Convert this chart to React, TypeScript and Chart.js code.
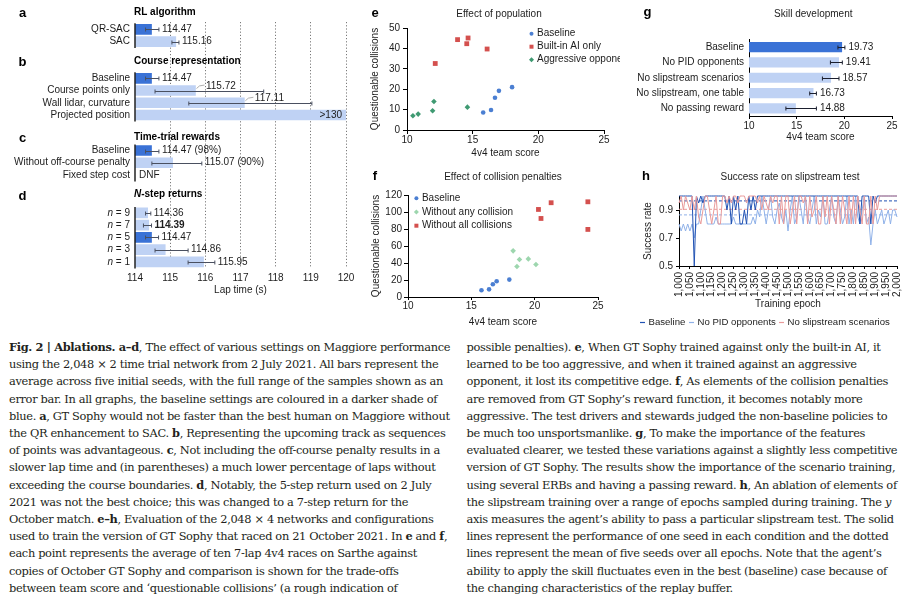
import React, { useEffect, useRef } from 'react';
import { Chart, registerables } from 'chart.js';

Chart.register(...registerables);

const FONT = '"Liberation Sans", Arial, Helvetica, sans-serif';
const INK = '#1c1c1c';
const DARK_BLUE = '#3a72d6';
const LIGHT_BLUE = '#bfd2f4';
const ERR = '#4a5060';
const PT_BLUE = '#4b7fd2';
const PT_RED = '#d4504e';
const PT_GREEN = '#3f9a72';
const PT_LGREEN = '#9dd6ae';
const H_DARK = '#2152b3';
const H_LIGHT = '#8fb1e8';
const H_PINK = '#e99a9a';

// ---------- a–d : lap time ablations ----------
const adLabels = ['QR-SAC', 'SAC', 'Baseline', 'Course points only', 'Wall lidar, curvature', 'Projected position', 'Baseline', 'Without off-course penalty', 'Fixed step cost', 'n = 9', 'n = 7', 'n = 5', 'n = 3', 'n = 1'];
const adRows = [0, 1, 4, 5, 6, 7, 9.9, 10.9, 11.9, 15, 16, 17, 18, 19];
const adTimes: (number | null)[] = [114.47, 115.16, 114.47, 115.72, 117.11, 130, 114.47, 115.07, null, 114.36, 114.39, 114.47, 114.86, 115.95];
const adErrLow: (number | null)[] = [114.3, 115.05, 114.3, 114.57, 115.53, null, 114.3, 114.48, null, 114.3, 114.24, 114.3, 114.57, 115.51];
const adErrHigh: (number | null)[] = [114.68, 115.25, 114.68, 117.66, 119.03, null, 114.68, 115.9, null, 114.45, 114.47, 114.67, 115.51, 116.27];
const adValueLabels = ['114.47', '115.16', '114.47', '115.72', '117.11', '>130', '114.47 (98%)', '115.07 (90%)', 'DNF', '114.36', '114.39', '114.47', '114.86', '115.95'];
const adIsBaseline = [true, false, true, false, false, false, true, false, false, false, false, true, false, false];
const adLabelAbove = [false, false, false, true, true, false, false, false, false, false, false, false, false, false];
const adBoldValue = [false, false, false, false, false, false, false, false, false, false, true, false, false, false];
const adGroupTitles = ['RL algorithm', 'Course representation', 'Time-trial rewards', '-step returns'];
const adGroupTitleRows = [-1.4, 2.6, 8.8, 13.5];
const adGroupLetters = ['a', 'b', 'c', 'd'];
const adGroupSpans = [[0, 1], [2, 5], [6, 8], [9, 13]];
const adTicks = [114, 115, 116, 117, 118, 119, 120];

// ---------- e : effect of population ----------
const eBaselineX = [15.8, 16.4, 16.7, 17.0, 18.0];
const eBaselineY = [8.6, 9.8, 15.8, 19.2, 21.0];
const eBuiltInX = [12.15, 13.85, 14.55, 14.65, 16.1];
const eBuiltInY = [32.6, 44.3, 42.3, 45.1, 39.7];
const eAggrX = [10.45, 10.85, 11.95, 12.05, 14.6];
const eAggrY = [7.0, 7.8, 9.4, 14.0, 11.2];

// ---------- f : effect of collision penalties ----------
const fBaselineX = [15.8, 16.4, 16.7, 17.0, 18.0];
const fBaselineY = [8, 9, 15, 18.5, 20.5];
const fNoAnyX = [18.3, 18.8, 18.6, 19.5, 20.1];
const fNoAnyY = [54.3, 44.1, 35.8, 44.8, 38.2];
const fNoAllX = [20.3, 20.5, 21.3, 24.2, 24.2];
const fNoAllY = [103, 92.4, 110.9, 112, 79.5];

// ---------- g : skill development ----------
const gLabels = ['Baseline', 'No PID opponents', 'No slipstream scenarios', 'No slipstream, one table', 'No passing reward'];
const gScores = [19.73, 19.41, 18.57, 16.73, 14.88];
const gErrLow = [19.33, 18.54, 17.7, 16.37, 13.87];
const gErrHigh = [20.06, 19.79, 19.44, 17.07, 17.07];
const gIsBaseline = [true, false, false, false, false];

// ---------- h : success rate on slipstream test ----------
const hEpochs = [1000, 1010, 1020, 1030, 1040, 1050, 1060, 1070, 1080, 1090,
  1100, 1110, 1120, 1130, 1140, 1150, 1160, 1170, 1180, 1190,
  1200, 1210, 1220, 1230, 1240, 1250, 1260, 1270, 1280, 1290,
  1300, 1310, 1320, 1330, 1340, 1350, 1360, 1370, 1380, 1390,
  1400, 1410, 1420, 1430, 1440, 1450, 1460, 1470, 1480, 1490,
  1500, 1510, 1520, 1530, 1540, 1550, 1560, 1570, 1580, 1590,
  1600, 1610, 1620, 1630, 1640, 1650, 1660, 1670, 1680, 1690,
  1700, 1710, 1720, 1730, 1740, 1750, 1760, 1770, 1780, 1790,
  1800, 1810, 1820, 1830, 1840, 1850, 1860, 1870, 1880, 1890,
  1900, 1910, 1920, 1930, 1940, 1950, 1960, 1970, 1980, 1990, 2000];
const hBaseline = [1, 1, 1, 1, 1, 1, 1, 0.5, 1, 0.95,
  1, 0.95, 1, 1, 1, 1, 1, 1, 1, 1,
  1, 1, 0.9, 1, 0.8, 1, 0.9, 1, 0.8, 0.8,
  0.9, 0.8, 1, 0.9, 1, 0.9, 1, 1, 1, 1,
  1, 1, 1, 1, 1, 1, 1, 1, 1, 1,
  1, 1, 1, 1, 1, 1, 1, 1, 1, 1,
  1, 1, 1, 1, 1, 1, 1, 1, 1, 1,
  1, 1, 1, 1, 1, 1, 1, 1, 1, 1,
  1, 1, 1, 0.8, 1, 1, 1, 1, 0.8, 1,
  0.95, 1, 1, 1, 1, 1, 1, 1, 1, 1, 1];
const hNoPid = [0.8, 0.75, 0.8, 0.75, 0.8, 0.75, 0.8, 0.7, 0.8, 0.8,
  0.9, 1, 0.9, 0.8, 0.8, 0.8, 0.8, 0.85, 0.8, 0.8,
  0.8, 0.8, 0.8, 0.8, 0.8, 0.85, 0.8, 0.8, 0.8, 0.8,
  0.8, 0.8, 0.8, 0.8, 0.85, 0.8, 0.9, 0.85, 1, 0.9,
  0.8, 0.9, 1, 0.85, 0.8, 0.9, 0.95, 0.85, 0.8, 0.9,
  0.75, 0.9, 1, 0.8, 0.85, 1, 0.9, 0.8, 1, 0.85,
  0.8, 0.9, 1, 0.8, 0.9, 0.85, 1, 0.8, 0.8, 0.9,
  1, 0.85, 0.8, 1, 0.9, 0.8, 0.85, 1, 0.8, 0.9,
  0.8, 1, 0.85, 0.8, 0.9, 1, 0.8, 0.85, 0.65, 0.8,
  0.9, 0.8, 0.85, 0.9, 0.8, 0.85, 0.9, 0.8, 0.9, 0.9, 0.85];
const hNoSlip = [0.95, 1, 0.9, 1, 0.95, 0.9, 1, 0.9, 1, 0.85,
  0.8, 0.9, 1, 1, 0.9, 0.8, 0.9, 1, 0.8, 0.8,
  1, 1, 0.95, 1, 0.95, 1, 1, 0.95, 1, 1,
  1, 0.95, 1, 1, 1, 1, 0.95, 1, 0.9, 1,
  0.95, 0.9, 1, 0.95, 1, 1, 0.8, 1, 0.8, 1,
  1, 0.8, 0.9, 1, 0.8, 1, 1, 0.95, 1, 0.8,
  1, 0.85, 0.9, 1, 0.8, 0.8, 1, 0.85, 1, 0.8,
  1, 0.9, 0.8, 1, 0.8, 1, 0.9, 0.8, 1, 0.8,
  1, 0.8, 1, 0.9, 0.8, 1, 0.8, 0.8, 1, 0.8,
  1, 0.9, 1, 1, 1, 1, 1, 1, 1, 1, 1];
const hSeriesNames = ['Baseline', 'No PID opponents', 'No slipstream scenarios'];
const hMeans = [0.965, 0.865, 0.905];

// ---------- helpers ----------
function font(size: number, weight = 'normal', style = 'normal') {
  return `${style} ${weight} ${size}px ${FONT}`;
}
function drawText(ctx: CanvasRenderingContext2D, s: string, x: number, y: number, o: { size?: number; weight?: string; style?: string; align?: CanvasTextAlign; baseline?: CanvasTextBaseline; color?: string } = {}) {
  ctx.font = font(o.size ?? 10, o.weight ?? 'normal', o.style ?? 'normal');
  ctx.textAlign = o.align ?? 'left';
  ctx.textBaseline = o.baseline ?? 'middle';
  ctx.fillStyle = o.color ?? INK;
  ctx.fillText(s, x, y);
}

function titlePlugin(title: string, tx: number, ty: number, letter: string, lx: number, ly: number) {
  return {
    id: 'panelTitle',
    afterDraw(chart: any) {
      const ctx = chart.ctx as CanvasRenderingContext2D;
      ctx.save();
      drawText(ctx, title, tx, ty, { align: 'center' });
      drawText(ctx, letter, lx, ly, { size: 13, weight: 'bold', align: 'center', baseline: 'alphabetic', color: '#000' });
      ctx.restore();
    },
  };
}

function scatterLegend(dx: number, dy: number, gap: number) {
  return {
    id: 'scatterLegend',
    afterDraw(chart: any) {
      const ctx = chart.ctx as CanvasRenderingContext2D;
      const ca = chart.chartArea;
      ctx.save();
      chart.data.datasets.forEach((ds: any, k: number) => {
        const cx = ca.left + dx;
        const cy = ca.top + dy + k * gap;
        ctx.fillStyle = ds.backgroundColor;
        ctx.beginPath();
        if (ds.pointStyle === 'rect') ctx.rect(cx - 2, cy - 2, 4, 4);
        else if (ds.pointStyle === 'rectRot') { ctx.moveTo(cx, cy - 2.5); ctx.lineTo(cx + 2.5, cy); ctx.lineTo(cx, cy + 2.5); ctx.lineTo(cx - 2.5, cy); ctx.closePath(); }
        else ctx.arc(cx, cy, 2, 0, Math.PI * 2);
        ctx.fill();
        drawText(ctx, ds.label, cx + 5.5, cy);
      });
      ctx.restore();
    },
  };
}

function ChartCanvas({ left, top, width, height, build }: { left: number; top: number; width: number; height: number; build: () => any }) {
  const ref = useRef<HTMLCanvasElement | null>(null);
  useEffect(() => {
    if (!ref.current) return;
    const chart = new Chart(ref.current, build());
    return () => chart.destroy();
  }, []);
  return <canvas ref={ref} width={width} height={height} style={{ position: 'absolute', left, top, width, height }} />;
}

const tickFont = { family: FONT, size: 10 };
const axisTitleFont = { family: FONT, size: 10 };

// ---------- a–d ----------
const adPlugin = {
  id: 'adDecor',
  afterDatasetsDraw(chart: any) {
    const ctx = chart.ctx as CanvasRenderingContext2D;
    const xs = chart.scales.x, ys = chart.scales.y;
    ctx.save();
    ctx.strokeStyle = ERR;
    ctx.lineWidth = 1;
    adRows.forEach((r, i) => {
      const lo = adErrLow[i], hi = adErrHigh[i];
      if (lo == null || hi == null) return;
      const yy = Math.round(ys.getPixelForValue(r)) + 0.5;
      const x1 = xs.getPixelForValue(lo), x2 = xs.getPixelForValue(hi);
      ctx.beginPath();
      ctx.moveTo(x1, yy); ctx.lineTo(x2, yy);
      ctx.moveTo(x1, yy - 2); ctx.lineTo(x1, yy + 2);
      ctx.moveTo(x2, yy - 2); ctx.lineTo(x2, yy + 2);
      ctx.stroke();
    });
    ctx.restore();
  },
  afterDraw(chart: any) {
    const ctx = chart.ctx as CanvasRenderingContext2D;
    const ca = chart.chartArea;
    const xs = chart.scales.x, ys = chart.scales.y;
    ctx.save();
    ctx.strokeStyle = '#222';
    ctx.lineWidth = 1.5;
    adGroupSpans.forEach(([a, b]) => {
      ctx.beginPath();
      ctx.moveTo(ca.left, ys.getPixelForValue(adRows[a]) - 6);
      ctx.lineTo(ca.left, ys.getPixelForValue(adRows[b]) + 6.5);
      ctx.stroke();
    });
    adLabels.forEach((lab, i) => {
      const yy = ys.getPixelForValue(adRows[i]);
      const xr = ca.left - 5;
      if (lab.startsWith('n ')) {
        ctx.font = font(10);
        const rest = lab.slice(1);
        const w = ctx.measureText(rest).width;
        drawText(ctx, rest, xr, yy, { align: 'right' });
        drawText(ctx, 'n', xr - w, yy, { align: 'right', style: 'italic' });
      } else {
        drawText(ctx, lab, xr, yy, { align: 'right' });
      }
    });
    adGroupTitles.forEach((t, g) => {
      const yy = ys.getPixelForValue(adGroupTitleRows[g]);
      let x0 = ca.left - 1;
      if (g === 3) {
        drawText(ctx, 'N', x0, yy, { weight: 'bold', style: 'italic', color: '#000' });
        ctx.font = font(10, 'bold', 'italic');
        x0 += ctx.measureText('N').width;
      }
      drawText(ctx, t, x0, yy, { weight: 'bold', color: '#000' });
      drawText(ctx, adGroupLetters[g], 22.5, yy + 5, { size: 13, weight: 'bold', align: 'center', baseline: 'alphabetic', color: '#000' });
    });
    adRows.forEach((r, i) => {
      const yy = ys.getPixelForValue(r);
      const t = adTimes[i];
      const lab = adValueLabels[i];
      const weight = adBoldValue[i] ? 'bold' : 'normal';
      if (t == null) {
        drawText(ctx, lab, ca.left + 4, yy);
      } else if (t > xs.max) {
        drawText(ctx, lab, ca.right - 4, yy, { align: 'right' });
      } else if (adLabelAbove[i]) {
        const be = xs.getPixelForValue(t);
        ctx.strokeStyle = '#9a9a9a';
        ctx.lineWidth = 0.8;
        ctx.beginPath();
        ctx.moveTo(be + 1, yy - 2);
        ctx.quadraticCurveTo(be + 3, yy - 5.5, be + 9, yy - 5.5);
        ctx.stroke();
        drawText(ctx, lab, be + 10.5, yy - 4.5);
      } else {
        const hi = adErrHigh[i];
        const end = Math.max(xs.getPixelForValue(t), hi == null ? 0 : xs.getPixelForValue(hi));
        drawText(ctx, lab, end + 3, yy, { weight });
      }
    });
    ctx.restore();
  },
};

function buildAD() {
  const bars = adTimes.map((v, i) => ({ x: v, y: adRows[i], base: adIsBaseline[i] })).filter((d) => d.x !== null);
  return {
    type: 'bar',
    data: {
      datasets: [{
        data: bars.map((d) => ({ x: d.x, y: d.y })),
        backgroundColor: bars.map((d) => (d.base ? DARK_BLUE : LIGHT_BLUE)),
        barThickness: 10,
        borderWidth: 0,
      }],
    },
    options: {
      indexAxis: 'y',
      responsive: false,
      animation: false,
      layout: { padding: { left: 135, top: 22, right: 14, bottom: 0 } },
      plugins: { legend: { display: false }, tooltip: { enabled: false } },
      scales: {
        x: {
          type: 'linear', min: 114, max: 120, offset: false,
          afterBuildTicks: (s: any) => { s.ticks = adTicks.map((v) => ({ value: v })); },
          ticks: { padding: 4, color: INK, font: tickFont },
          grid: { color: (c: any) => (c.tick && c.tick.value === 114 ? 'rgba(0,0,0,0)' : '#7a7a7a'), drawTicks: false, lineWidth: 1, offset: false },
          border: { display: false, dash: [1.2, 2] },
          title: { display: true, text: 'Lap time (s)', color: INK, font: axisTitleFont, padding: { top: 0, bottom: 4 } },
          afterFit: (s: any) => { s.height = 32; },
        },
        y: { type: 'linear', min: -0.6, max: 19.5, reverse: true, display: false, offset: false, grid: { offset: false } },
      },
    },
    plugins: [adPlugin],
  };
}

// ---------- e / f ----------
function scatterAxes(yMax: number, yStep: number, yTitlePad: number, yWidth: number, xTitlePad: number, xHeight: number, xTickLen: number, xTickPad: number, yTickPad: number) {
  return {
    x: {
      type: 'linear', min: 10, max: 25,
      ticks: { stepSize: 5, padding: xTickPad, color: INK, font: tickFont },
      grid: { drawOnChartArea: false, drawTicks: true, tickLength: xTickLen, color: '#000' },
      border: { display: true, color: '#000', width: 1 },
      title: { display: true, text: '4v4 team score', color: INK, font: axisTitleFont, padding: { top: 0, bottom: xTitlePad } },
      afterFit: (s: any) => { s.height = xHeight; },
    },
    y: {
      type: 'linear', min: 0, max: yMax,
      ticks: { stepSize: yStep, padding: yTickPad, color: INK, font: tickFont },
      grid: { drawOnChartArea: false, drawTicks: true, tickLength: 4, color: '#000' },
      border: { display: true, color: '#000', width: 1 },
      title: { display: true, text: 'Questionable collisions', color: INK, font: axisTitleFont, padding: { top: yTitlePad, bottom: 0 } },
      afterFit: (s: any) => { s.width = yWidth; },
    },
  };
}

function pts(xs: number[], ys: number[]) {
  return xs.map((x, i) => ({ x, y: ys[i] }));
}

function buildE() {
  return {
    type: 'scatter',
    data: {
      datasets: [
        { label: 'Baseline', data: pts(eBaselineX, eBaselineY), pointStyle: 'circle', pointRadius: 2.3, backgroundColor: PT_BLUE, borderWidth: 0 },
        { label: 'Built-in AI only', data: pts(eBuiltInX, eBuiltInY), pointStyle: 'rect', pointRadius: 3.4, backgroundColor: PT_RED, borderWidth: 0 },
        { label: 'Aggressive opponents', data: pts(eAggrX, eAggrY), pointStyle: 'rectRot', pointRadius: 2.8, backgroundColor: PT_GREEN, borderWidth: 0 },
      ],
    },
    options: {
      responsive: false, animation: false,
      layout: { padding: { left: 0, top: 28, right: 16, bottom: 0 } },
      plugins: { legend: { display: false }, tooltip: { enabled: false } },
      scales: scatterAxes(50, 10, 14, 52, 1, 30, 4, 0, 3),
    },
    plugins: [scatterLegend(124.5, 5.7, 13), titlePlugin('Effect of population', 144, 14, 'e', 20, 17.3)],
  };
}

function buildF() {
  return {
    type: 'scatter',
    data: {
      datasets: [
        { label: 'Baseline', data: pts(fBaselineX, fBaselineY), pointStyle: 'circle', pointRadius: 2.3, backgroundColor: PT_BLUE, borderWidth: 0 },
        { label: 'Without any collision', data: pts(fNoAnyX, fNoAnyY), pointStyle: 'rectRot', pointRadius: 2.8, backgroundColor: PT_LGREEN, borderWidth: 0 },
        { label: 'Without all collisions', data: pts(fNoAllX, fNoAllY), pointStyle: 'rect', pointRadius: 3.4, backgroundColor: PT_RED, borderWidth: 0 },
      ],
    },
    options: {
      responsive: false, animation: false,
      layout: { padding: { left: 0, top: 35, right: 22, bottom: 0 } },
      plugins: { legend: { display: false }, tooltip: { enabled: false } },
      scales: scatterAxes(120, 20, 15, 53, 2, 33, 3, 0, 2),
    },
    plugins: [scatterLegend(8.4, 3.3, 13.7), titlePlugin('Effect of collision penalties', 148, 17.3, 'f', 20, 20)],
  };
}

// ---------- g ----------
const gPlugin = {
  id: 'gDecor',
  afterDatasetsDraw(chart: any) {
    const ctx = chart.ctx as CanvasRenderingContext2D;
    const xs = chart.scales.x, ys = chart.scales.y;
    ctx.save();
    ctx.strokeStyle = '#1b1f2e';
    ctx.lineWidth = 1;
    gScores.forEach((v, i) => {
      const yy = Math.round(ys.getPixelForValue(i)) + 0.5;
      const x1 = xs.getPixelForValue(gErrLow[i]), x2 = xs.getPixelForValue(gErrHigh[i]);
      ctx.beginPath();
      ctx.moveTo(x1, yy); ctx.lineTo(x2, yy);
      ctx.moveTo(x1, yy - 2); ctx.lineTo(x1, yy + 2);
      ctx.moveTo(x2, yy - 2); ctx.lineTo(x2, yy + 2);
      ctx.stroke();
      drawText(ctx, v.toFixed(2), Math.max(x2, xs.getPixelForValue(v)) + 3.5, yy);
    });
    ctx.restore();
  },
};

function buildG() {
  return {
    type: 'bar',
    data: {
      labels: gLabels,
      datasets: [{ data: gScores, backgroundColor: gIsBaseline.map((b) => (b ? DARK_BLUE : LIGHT_BLUE)), barThickness: 9.5, borderWidth: 0 }],
    },
    options: {
      indexAxis: 'y', responsive: false, animation: false,
      layout: { padding: { left: 0, top: 39.5, right: 24, bottom: 0 } },
      plugins: { legend: { display: false }, tooltip: { enabled: false } },
      scales: {
        x: {
          type: 'linear', min: 10, max: 25,
          ticks: { stepSize: 5, padding: 1, color: INK, font: tickFont },
          grid: { drawOnChartArea: false, drawTicks: true, tickLength: 3, color: '#000' },
          border: { display: true, color: '#000', width: 1 },
          title: { display: true, text: '4v4 team score', color: INK, font: axisTitleFont, padding: { top: 0, bottom: 7 } },
          afterFit: (s: any) => { s.height = 34; },
        },
        y: {
          ticks: { padding: 5, color: INK, font: tickFont },
          grid: { display: false, drawTicks: false },
          border: { display: true, color: '#000', width: 1 },
          afterFit: (s: any) => { s.width = 129; },
        },
      },
    },
    plugins: [gPlugin, titlePlugin('Skill development', 193.3, 14, 'g', 27.5, 15.5)],
  };
}

// ---------- h ----------
const hLegendPlugin = {
  id: 'hLegend',
  afterDraw(chart: any) {
    const ctx = chart.ctx as CanvasRenderingContext2D;
    const colors = [H_DARK, H_LIGHT, H_PINK];
    const starts = [20, 69, 159];
    const y = 162;
    ctx.save();
    hSeriesNames.forEach((name, k) => {
      ctx.strokeStyle = colors[k];
      ctx.lineWidth = 1.2;
      ctx.beginPath();
      ctx.moveTo(starts[k], y + 0.5);
      ctx.lineTo(starts[k] + 5, y + 0.5);
      ctx.stroke();
      drawText(ctx, name, starts[k] + 8.5, y, { size: 9.6 });
    });
    ctx.restore();
  },
};

function buildH() {
  const line = (vals: number[], color: string, order: number) => ({
    data: hEpochs.map((x, i) => ({ x, y: vals[i] })),
    borderColor: color, borderWidth: 1, pointRadius: 0, tension: 0, fill: false, clip: 4, order,
  });
  const mean = (m: number, color: string) => ({
    data: [{ x: hEpochs[0], y: m }, { x: hEpochs[hEpochs.length - 1], y: m }],
    borderColor: color, borderWidth: 1, borderDash: [3, 2], pointRadius: 0, fill: false, order: 5,
  });
  return {
    type: 'line',
    data: {
      datasets: [
        line(hBaseline, H_DARK, 1),
        line(hNoPid, H_LIGHT, 2),
        line(hNoSlip, H_PINK, 0),
        mean(hMeans[0], H_DARK),
        mean(hMeans[1], H_LIGHT),
        mean(hMeans[2], H_PINK),
      ],
    },
    options: {
      responsive: false, animation: false,
      layout: { padding: { left: 0, top: 36, right: 19, bottom: 20 } },
      plugins: { legend: { display: false }, tooltip: { enabled: false } },
      scales: {
        x: {
          type: 'linear', min: 1000, max: 2000,
          ticks: { stepSize: 50, autoSkip: false, minRotation: 90, maxRotation: 90, padding: 3, color: INK, font: tickFont, callback: (v: any) => Number(v).toLocaleString('en-US') },
          grid: { drawOnChartArea: false, drawTicks: true, tickLength: 3, color: '#000' },
          border: { display: true, color: '#000', width: 1 },
          title: { display: true, text: 'Training epoch', color: INK, font: axisTitleFont, padding: { top: 0, bottom: 0 } },
          afterFit: (s: any) => { s.height = 44; },
        },
        y: {
          type: 'linear', min: 0.5, max: 1.0,
          ticks: { stepSize: 0.1, padding: 3, color: INK, font: tickFont, callback: (v: any) => Number(v).toFixed(1) },
          grid: { drawOnChartArea: false, drawTicks: true, tickLength: 3, color: '#000' },
          border: { display: true, color: '#000', width: 1 },
          title: { display: true, text: 'Success rate', color: INK, font: axisTitleFont, padding: { top: 22, bottom: 0 } },
          afterFit: (s: any) => { s.width = 59; },
        },
      },
    },
    plugins: [hLegendPlugin, titlePlugin('Success rate on slipstream test', 170, 17.3, 'h', 26, 20)],
  };
}

// ---------- caption ----------
const capStyle: React.CSSProperties = {
  position: 'absolute', top: 339, fontFamily: '"DejaVu Serif", "Liberation Serif", serif', fontSize: 11.4,
  lineHeight: '17.2px', color: '#231f20', whiteSpace: 'pre', margin: 0, letterSpacing: '-0.34px',
};

const leftLines: React.ReactNode[] = [
  <><b>Fig. 2 | Ablations. a–d</b>, The effect of various settings on Maggiore performance</>,
  <>using the 2,048 × 2 time trial network from 2 July 2021. All bars represent the</>,
  <>average across five initial seeds, with the full range of the samples shown as an</>,
  <>error bar. In all graphs, the baseline settings are coloured in a darker shade of</>,
  <>blue. <b>a</b>, GT Sophy would not be faster than the best human on Maggiore without</>,
  <>the QR enhancement to SAC. <b>b</b>, Representing the upcoming track as sequences</>,
  <>of points was advantageous. <b>c</b>, Not including the off-course penalty results in a</>,
  <>slower lap time and (in parentheses) a much lower percentage of laps without</>,
  <>exceeding the course boundaries. <b>d</b>, Notably, the 5-step return used on 2 July</>,
  <>2021 was not the best choice; this was changed to a 7-step return for the</>,
  <>October match. <b>e–h</b>, Evaluation of the 2,048 × 4 networks and configurations</>,
  <>used to train the version of GT Sophy that raced on 21 October 2021. In <b>e</b> and <b>f</b>,</>,
  <>each point represents the average of ten 7-lap 4v4 races on Sarthe against</>,
  <>copies of October GT Sophy and comparison is shown for the trade-offs</>,
  <>between team score and ‘questionable collisions’ (a rough indication of</>,
];

const rightLines: React.ReactNode[] = [
  <>possible penalties). <b>e</b>, When GT Sophy trained against only the built-in AI, it</>,
  <>learned to be too aggressive, and when it trained against an aggressive</>,
  <>opponent, it lost its competitive edge. <b>f</b>, As elements of the collision penalties</>,
  <>are removed from GT Sophy’s reward function, it becomes notably more</>,
  <>aggressive. The test drivers and stewards judged the non-baseline policies to</>,
  <>be much too unsportsmanlike. <b>g</b>, To make the importance of the features</>,
  <>evaluated clearer, we tested these variations against a slightly less competitive</>,
  <>version of GT Sophy. The results show the importance of the scenario training,</>,
  <>using several ERBs and having a passing reward. <b>h</b>, An ablation of elements of</>,
  <>the slipstream training over a range of epochs sampled during training. The <i>y</i></>,
  <>axis measures the agent’s ability to pass a particular slipstream test. The solid</>,
  <>lines represent the performance of one seed in each condition and the dotted</>,
  <>lines represent the mean of five seeds over all epochs. Note that the agent’s</>,
  <>ability to apply the skill fluctuates even in the best (baseline) case because of</>,
  <>the changing characteristics of the replay buffer.</>,
];

export default function App() {
  return (
    <div style={{ position: 'fixed', left: 0, top: 0, width: 916, height: 602, background: '#fff', overflow: 'hidden' }}>
      <ChartCanvas left={0} top={0} width={360} height={300} build={buildAD} />
      <ChartCanvas left={355} top={0} width={265} height={160} build={buildE} />
      <ChartCanvas left={355} top={160} width={265} height={170} build={buildF} />
      <ChartCanvas left={620} top={0} width={296} height={150} build={buildG} />
      <ChartCanvas left={620} top={160} width={296} height={170} build={buildH} />
      <div style={{ ...capStyle, left: 9 }}>
        {leftLines.map((l, i) => <div key={i}>{l}</div>)}
      </div>
      <div style={{ ...capStyle, left: 466.5 }}>
        {rightLines.map((l, i) => <div key={i}>{l}</div>)}
      </div>
    </div>
  );
}
